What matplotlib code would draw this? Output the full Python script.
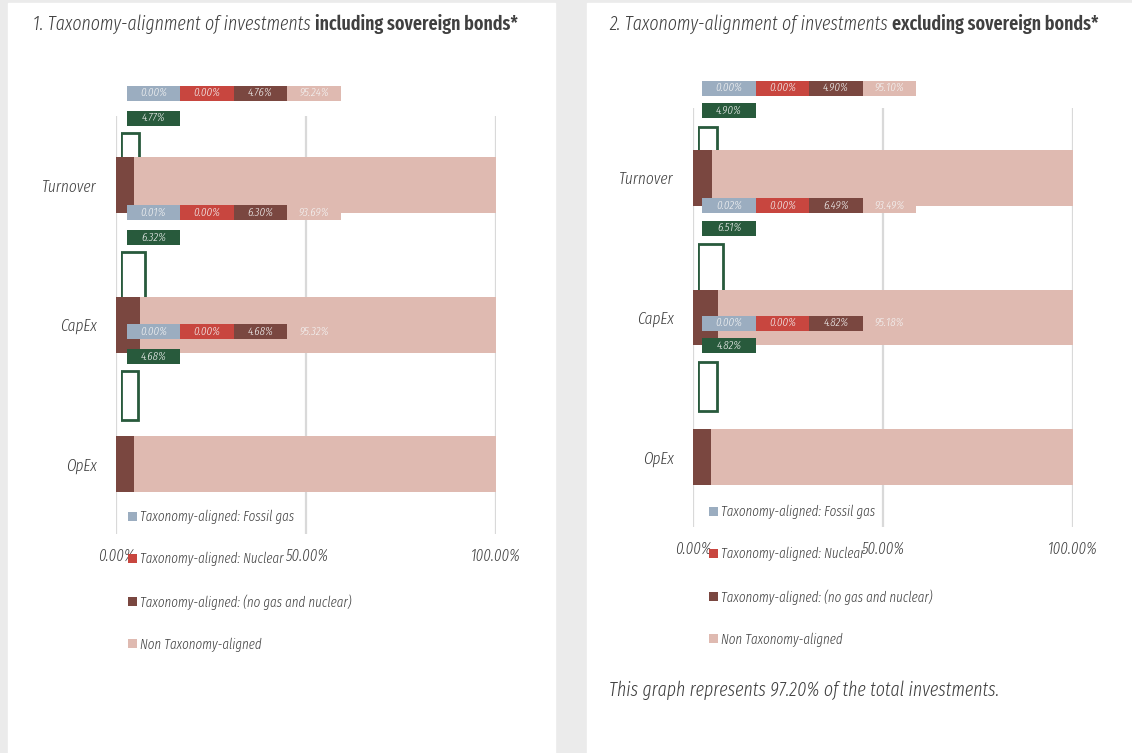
import matplotlib
matplotlib.use('Agg')
import matplotlib.pyplot as plt
from matplotlib.patches import Rectangle

W, H = 1132, 753

categories = ['Turnover', 'CapEx', 'OpEx']
series_names = ['Taxonomy-aligned: Fossil gas', 'Taxonomy-aligned: Nuclear',
                'Taxonomy-aligned: (no gas and nuclear)', 'Non Taxonomy-aligned']
colors = ['#9badc0', '#c8463f', '#7a4740', '#dfbab1']
green = '#285a3c'

# 1. including sovereign bonds
incl_gas = [0.00, 0.01, 0.00]
incl_nuclear = [0.00, 0.00, 0.00]
incl_aligned = [4.76, 6.30, 4.68]
incl_non = [95.24, 93.69, 95.32]
incl_total = [4.77, 6.32, 4.68]

# 2. excluding sovereign bonds
excl_gas = [0.00, 0.02, 0.00]
excl_nuclear = [0.00, 0.00, 0.00]
excl_aligned = [4.90, 6.49, 4.82]
excl_non = [95.10, 93.49, 95.18]
excl_total = [4.90, 6.51, 4.82]

tick_values = [0, 50, 100]
tick_labels = ['0.00%', '50.00%', '100.00%']

plt.rcParams['font.family'] = ['Fira Sans Extra Condensed', 'DejaVu Sans']
plt.rcParams['font.weight'] = 300
TXT = '#404040'


def px_axes(fig, x0, y0, x1, y1, z):
    ax = fig.add_axes([x0 / W, 1 - y1 / H, (x1 - x0) / W, (y1 - y0) / H], zorder=z)
    ax.patch.set_visible(False)
    return ax


def panel(fig, lay, gas, nuc, ali, non, total, title_num, title_bold, note=None):
    # green outlined boxes (behind the main bars)
    s = lay['s']
    ov = [lay['ox'], lay['c0'] - 1.0 * s, lay['ox'] + 380, lay['c0'] + 2.5 * s]
    axb = px_axes(fig, *ov, z=1)
    axb.set_xlim(0, 100)
    axb.set_ylim(2.5, -1.0)
    axb.axis('off')
    axb.barh(range(3), total, height=49 / s, color='none', edgecolor=green, linewidth=2.0)

    # main stacked bars
    ax = px_axes(fig, lay['x0'], lay['top'], lay['x0'] + 380, lay['bottom'], z=2)
    ax.set_xlim(0, 100)
    ax.set_ylim(2.5, -0.5)
    left = [0, 0, 0]
    handles = []
    for vals, col in zip([gas, nuc, ali, non], colors):
        h = ax.barh(range(3), vals, left=left, height=0.4, color=col)
        handles.append(h)
        left = [a + b for a, b in zip(left, vals)]
    for sp in ax.spines.values():
        sp.set_visible(False)
    ax.set_xticks(tick_values)
    ax.set_xticklabels(tick_labels, style='italic', fontsize=11.5, color=TXT)
    ax.set_yticks(range(3))
    ax.set_yticklabels(categories, style='italic', fontsize=12, color=TXT)
    ax.tick_params(length=0)
    ax.tick_params(axis='x', pad=lay['xpad'])
    ax.tick_params(axis='y', pad=14)
    ax.grid(axis='x', color='#d9d9d9', linewidth=1.6)
    ax.set_axisbelow(True)
    ax.legend(handles, series_names, loc='upper left', frameon=False,
              bbox_to_anchor=(lay['lx'] / W, 1 - lay['ly'] / H), bbox_transform=fig.transFigure,
              prop={'style': 'italic', 'size': 10.2, 'weight': 300}, labelcolor=TXT,
              handlelength=0.6, handleheight=0.6, handletextpad=0.25,
              labelspacing=1.95, borderpad=0, borderaxespad=0)

    # data label boxes (on top)
    axl = px_axes(fig, *ov, z=3)
    axl.set_xlim(0, 100)
    axl.set_ylim(2.5, -1.0)
    axl.axis('off')
    bw = 53.5 / 3.8
    bx = (lay['lx0'] - lay['ox']) / 3.8
    bh = 15 / s
    for i in range(3):
        yr = i + lay['roff'] / s
        for k, (vals, col) in enumerate(zip([gas, nuc, ali, non], colors)):
            axl.add_patch(Rectangle((bx + k * bw, yr - bh / 2), bw, bh, color=col, lw=0))
            axl.text(bx + (k + 0.5) * bw, yr, f'{vals[i]:.2f}%', ha='center', va='center',
                     color='#f4f4f4', fontsize=8.5, style='italic')
        yg = i + lay['goff'] / s
        axl.add_patch(Rectangle((bx, yg - bh / 2), bw, bh, color=green, lw=0))
        axl.text(bx + 0.5 * bw, yg, f'{total[i]:.2f}%', ha='center', va='center',
                 color='#f4f4f4', fontsize=8.5, style='italic')

    t1 = fig.text(lay['tx'] / W, 1 - lay['ty'] / H, title_num, style='italic',
                  fontsize=14, color=TXT, va='center')
    ax.annotate(title_bold, xy=(1, 0), xycoords=t1, va='bottom', ha='left',
                fontsize=14, fontweight=600, color=TXT, annotation_clip=False)
    if note:
        fig.text(lay['tx'] / W, 1 - 690 / H, note, style='italic', fontsize=14, color=TXT, va='center')


fig = plt.figure(figsize=(W / 100, H / 100), dpi=100, facecolor='#ebebeb')
fig.patches.append(Rectangle((8 / W, 0), 547 / W, 750 / H, transform=fig.transFigure,
                             color='white', zorder=-1))
fig.patches.append(Rectangle((587 / W, 0), 545 / W, 750 / H, transform=fig.transFigure,
                             color='white', zorder=-1))

left_lay = dict(x0=116.3, top=115.5, bottom=534, ox=120.7, lx0=126.7, c0=157, s=119.3,
                roff=-64, goff=-39, lx=128, ly=510, xpad=10, tx=33, ty=24)
right_lay = dict(x0=693, top=108, bottom=527, ox=698.3, lx0=702.3, c0=151, s=117.6,
                 roff=-63, goff=-40.5, lx=709, ly=505, xpad=10, tx=609, ty=24)

panel(fig, left_lay, incl_gas, incl_nuclear, incl_aligned, incl_non, incl_total,
      '1. Taxonomy-alignment of investments ', 'including sovereign bonds*')
panel(fig, right_lay, excl_gas, excl_nuclear, excl_aligned, excl_non, excl_total,
      '2. Taxonomy-alignment of investments ', 'excluding sovereign bonds*',
      note='This graph represents 97.20% of the total investments.')

fig.savefig('out.png', dpi=100, facecolor=fig.get_facecolor())
